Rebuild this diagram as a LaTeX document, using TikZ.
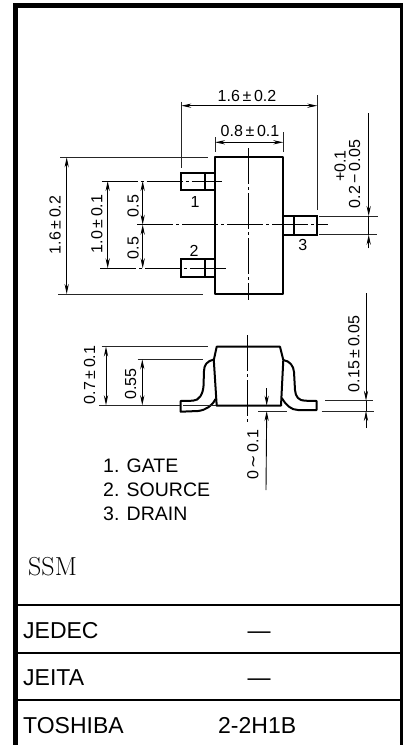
\documentclass[tikz,border=0pt]{standalone}
\usepackage{fontspec}
\usetikzlibrary{arrows.meta}
\newfontfamily\arialfont{Liberation Sans}
\newfontfamily\symfont{DejaVu Sans}
\tikzset{
  outl/.style={line width=2pt,line join=round},
  pinl/.style={line width=1.7pt},
  dimb/.style={line width=0.9pt},
  ext/.style={line width=0.8pt,black!85},
  dimarr/.style={line width=0.9pt,{Stealth[length=10pt,width=4.2pt]}-{Stealth[length=10pt,width=4.2pt]}},
  endarr/.style={line width=0.9pt,-{Stealth[length=10pt,width=4.2pt]}},
  centre/.style={line width=0.8pt,dash pattern=on 36pt off 3pt on 3pt off 3pt},
  lab/.style={inner sep=0pt,font=\arialfont\fontsize{16}{16}\selectfont},
  vlab/.style={lab,rotate=90,anchor=base},
  hlab/.style={lab,anchor=base},
  pinno/.style={inner sep=0pt,font=\arialfont\fontsize{16}{16}\selectfont},
  legendt/.style={inner sep=0pt,anchor=base west,font=\arialfont\fontsize{19.5}{19.5}\selectfont},
  tablet/.style={inner sep=0pt,anchor=base west,font=\arialfont\fontsize{23}{23}\selectfont},
  rule/.style={line width=2pt}
}
\begin{document}
\begin{tikzpicture}[x=1pt,y=-1pt]
\useasboundingbox (0,0) rectangle (403,745);
% frame
\fill (13,3) rectangle (403,8);
\fill (13,3) rectangle (18,745);
\fill (400,3) rectangle (403,745);
\draw[rule] (18,605) coordinate (r1l) -- (400,605) coordinate (r1r);
\draw[rule] (18,652.7) coordinate (r2l) -- (400,652.7) coordinate (r2r);
\draw[rule] (18,699.5) coordinate (r3l) -- (400,699.5) coordinate (r3r);
% top view centre lines
\draw[centre] (248.7,148) -- (248.7,300);
\draw[centre] (137,224.7) -- (328,224.7);
\draw[centre] (101.7,181) -- (221.7,181);
\draw[centre] (100,268.3) -- (226.7,268.3);
% top view outline and pins
\draw[outl] (215,157.3) rectangle (283.3,294);
\draw[pinl] (181.3,173.3) rectangle (215,190) (205,173.3) -- (205,190);
\draw[pinl] (181.3,259.3) rectangle (215,276.7) (205,259.3) -- (205,276.7);
\draw[pinl] (283.3,216) rectangle (316.7,234.7) (294,216) -- (294,234.7);
\node[pinno] (n1) at (195,201.7) {1};
\node[pinno] (n2) at (194,250.7) {2};
\node[pinno] (n3) at (302.7,245) {3};
% 1.6 width
\draw[ext] (181.3,101.7) -- (181.3,168);
\draw[ext] (317.3,95) -- (317.3,210);
\draw[dimarr] (181.3,105.7) -- (317.3,105.7);
\node[hlab] (w16) at (247,101) {1.6\,±\,0.2};
% 0.8 width
\draw[ext] (215,137) -- (215,152);
\draw[ext] (283.3,132) -- (283.3,152);
\draw[dimarr] (215,142.3) -- (283.3,142.3);
\node[hlab] (w08) at (250,136) {0.8\,±\,0.1};
% 1.6 height
\draw[ext] (60,157.3) -- (207.7,157.3);
\draw[ext] (58.3,294) -- (203.3,294);
\draw[dimarr] (66.7,157.3) -- (66.7,294);
\node[vlab] (h16) at (60.7,225) {1.6\,±\,0.2};
% 1.0 height
\draw[dimarr] (107.7,181) -- (107.7,268.3);
\node[vlab] (h10) at (102.3,224) {1.0\,±\,0.1};
% 0.5 + 0.5
\draw[dimarr] (142.7,181) -- (142.7,224.7);
\draw[dimarr] (142.7,224.7) -- (142.7,268.3);
\node[vlab] (h05a) at (138.7,206) {0.5};
\node[vlab] (h05b) at (138.7,248) {0.5};
% pin 3 width
\draw[ext] (319.3,216) -- (377.7,216);
\draw[ext] (319.3,234.7) -- (377,234.7);
\draw[dimb] (368.7,216) -- (368.7,234.7);
\draw[endarr] (368.7,113.3) -- (368.7,216);
\draw[endarr] (368.7,248.3) -- (368.7,234.7);
\node[vlab] (p1) at (345.7,166) {+0.1};
\node[vlab] (p2) at (360,174) {0.2\,−\,0.05};
% side view
\draw[centre] (247.7,335) -- (247.7,425);
\draw[outl] (216.7,346.7) -- (280,346.7) -- (283.3,360) -- (281,405.7) -- (216.7,405.7) -- (213.8,360) -- cycle;
\draw[outl] (283.3,360) .. controls (290,361) and (293.5,366) .. (294,372)
  -- (295,390) .. controls (295.5,397) and (299,400.7) .. (305,400.7)
  -- (316.7,401) -- (316.7,410) -- (298,410)
  .. controls (291,410) and (286,405) .. (281.8,398);
\draw[outl] (213.8,359.5) .. controls (207,361) and (204,365) .. (204,371)
  -- (203.5,386) .. controls (203,394) and (199,400.7) .. (193,400.7)
  -- (180.7,401) -- (180.7,411.7) -- (198,411)
  .. controls (206,410) and (212,406) .. (215.5,399);
\draw[ext] (183,405) -- (216,405);
% side dims
\draw[ext] (101.7,346.3) -- (208.3,346.3);
\draw[ext] (99.3,405.3) -- (180,405.3);
\draw[ext] (137.7,359.3) -- (203.3,359.3);
\draw[dimarr] (106,346.5) -- (106,405.3);
\draw[dimarr] (142.3,359.3) -- (142.3,405.3);
\node[vlab] (h07) at (95,375) {0.7\,±\,0.1};
\node[vlab] (h055) at (136,384) {0.55};
% gap dim
\draw[ext] (258.3,411) -- (286.7,411);
\draw[endarr] (266.7,388.3) -- (266.7,405.7);
\draw[endarr] (266,490) -- (266.7,411);
\node[vlab] (g01) at (258.3,455) {0\,{\symfont ∼}\,0.1};
% 0.15 dim
\draw[ext] (325,400.7) -- (373,400.7);
\draw[ext] (321.7,411) -- (374,411);
\draw[dimb] (366,400.7) -- (366,411);
\draw[endarr] (366,293) -- (366,400.7);
\draw[endarr] (366,428) -- (366,411);
\node[vlab] (t015) at (359.3,354) {0.15\,±\,0.05};
% legend
\node[legendt] (l1) at (103,472) {1. GATE};
\node[legendt] (l2) at (103,496) {2. SOURCE};
\node[legendt] (l3) at (103,520.7) {3. DRAIN};
\node[inner sep=0pt,anchor=base west,font=\fontsize{26}{26}\selectfont] (ssm) at (28,575) {SSM};
% table
\node[tablet] (je) at (23,638.5) {JEDEC};
\node[tablet] (ji) at (23,685) {JEITA};
\node[tablet] (to) at (23,733) {TOSHIBA};
\node[tablet,anchor=base] (d1) at (259,638.5) {—};
\node[tablet,anchor=base] (d2) at (259,685) {—};
\node[tablet] (pk) at (218,733) {2-2H1B};
\end{tikzpicture}
\end{document}
